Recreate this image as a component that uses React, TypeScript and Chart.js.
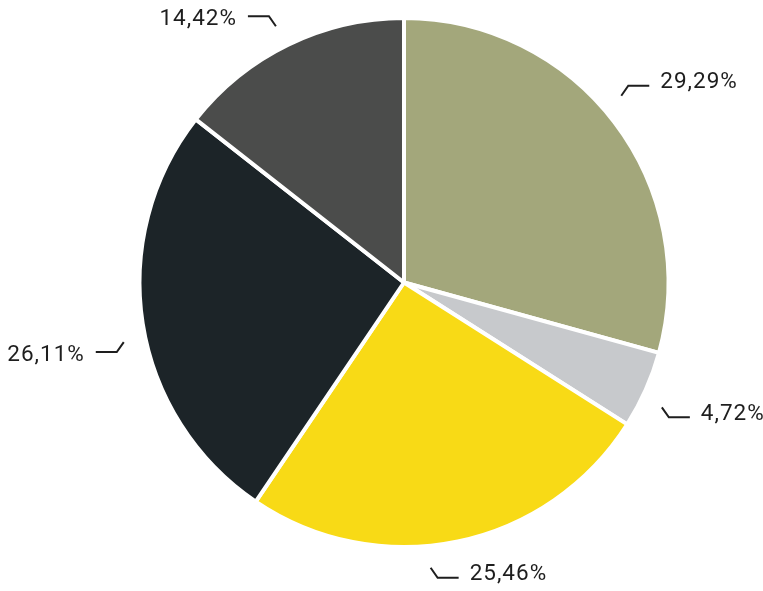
import React, { useEffect, useRef } from "react";
import { Chart, registerables } from "chart.js";

Chart.register(...registerables);

const labels = ["A", "B", "C", "D", "E"];
const values = [29.29, 4.72, 25.46, 26.11, 14.42];
const valueLabels = ["29,29%", "4,72%", "25,46%", "26,11%", "14,42%"];
const colors = ["#a3a77b", "#c7c9cc", "#f8da16", "#1c2428", "#4b4c4b"];
// label leader placement tweaks (degrees from slice middle) — styling only
const leaderAngleShift = [-3.4, 1.9, 6.4, -3.1, -0.6];

const leaderPlugin = {
  id: "leaders",
  afterDatasetsDraw(chart: any) {
    const ctx = chart.ctx;
    const meta = chart.getDatasetMeta(0);
    ctx.save();
    ctx.strokeStyle = "#1e1e1e";
    ctx.fillStyle = "#1e1e1e";
    ctx.lineWidth = 2;
    ctx.font = "22.5px Roboto, 'DejaVu Sans Condensed', sans-serif";
    try {
      (ctx as any).letterSpacing = "1px";
    } catch (e) {}
    ctx.textBaseline = "middle";
    meta.data.forEach((arc: any, i: number) => {
      const { x, y, startAngle, endAngle, outerRadius } = arc.getProps(
        ["x", "y", "startAngle", "endAngle", "outerRadius"],
        true
      );
      const mid = (startAngle + endAngle) / 2 + (leaderAngleShift[i] * Math.PI) / 180;
      const r = outerRadius + 22;
      const ax = x + Math.cos(mid) * r;
      const ay = y + Math.sin(mid) * r;
      const right = Math.cos(mid) >= 0;
      const down = Math.sin(mid) >= 0;
      const dir = right ? 1 : -1;
      const bx = ax + dir * 7;
      const by = ay + (down ? 10 : -10);
      const cx = bx + dir * 21;
      ctx.beginPath();
      ctx.moveTo(ax, ay);
      ctx.lineTo(bx, by);
      ctx.lineTo(cx, by);
      ctx.stroke();
      ctx.textAlign = right ? "left" : "right";
      ctx.fillText(valueLabels[i], cx + dir * 11, by + (right ? -3 : 3));
    });
    ctx.restore();
  },
};

export default function App() {
  const ref = useRef<HTMLCanvasElement>(null);
  useEffect(() => {
    const chart = new Chart(ref.current!, {
      type: "pie",
      data: {
        labels,
        datasets: [
          {
            data: values,
            backgroundColor: colors,
            borderColor: "#ffffff",
            borderWidth: 4,
          },
        ],
      },
      options: {
        animation: false,
        responsive: false,
        layout: { padding: { top: 16, bottom: 42, left: 60, right: 15 } },
        plugins: {
          legend: { display: false },
          tooltip: { enabled: false },
        },
      },
      plugins: [leaderPlugin],
    });
    return () => chart.destroy();
  }, []);
  return (
    <div style={{ position: "fixed", left: 0, top: 0, width: 763, height: 591, background: "#fff" }}>
      <canvas ref={ref} width={763} height={591} />
    </div>
  );
}
